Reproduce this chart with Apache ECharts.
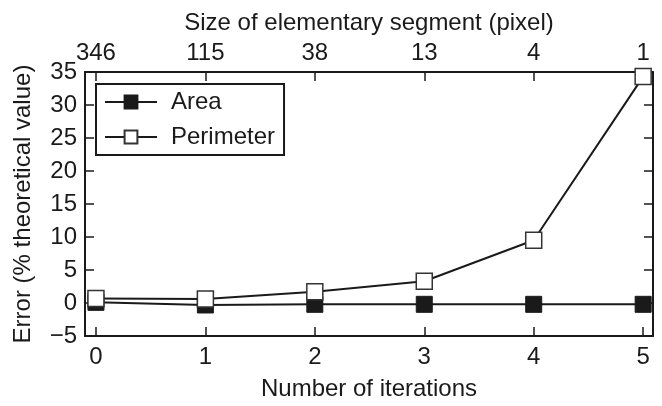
<!DOCTYPE html>
<html>
<head>
<meta charset="utf-8">
<script src="https://cdn.jsdelivr.net/npm/echarts@6/dist/echarts.min.js"></script>
<style>
  html, body { margin: 0; padding: 0; background: #fff; }
  #chart { width: 662px; height: 406px; }
</style>
</head>
<body>
<div id="chart"></div>
<script>
// Iteration steps on the bottom axis
const iterations = [0, 1, 2, 3, 4, 5];
// Matching elementary segment size, shown on the top axis
const segmentSizes = ['346', '115', '38', '13', '4', '1'];
// Error relative to the theoretical value (%)
const areaError = [0.1, -0.3, -0.2, -0.2, -0.2, -0.2];
const perimeterError = [0.7, 0.6, 1.7, 3.3, 9.5, 34.3];

const ink = '#1a1a1a';
const font = 'Liberation Sans, Arial, sans-serif';
const fs = 24;

const chart = echarts.init(document.getElementById('chart'), null, { renderer: 'canvas' });

const axisLine = { show: true, onZero: false, lineStyle: { color: ink, width: 2 } };
const innerTick = { show: true, inside: true, length: 9, lineStyle: { color: ink, width: 1.5 } };
const labelText = { fontFamily: font, fontSize: fs, color: ink };

chart.setOption({
  backgroundColor: '#fff',
  animation: false,
  textStyle: { fontFamily: font },
  grid: { left: 85, right: 9, top: 72, bottom: 64, containLabel: false },
  legend: {
    orient: 'vertical',
    left: 96,
    top: 84,
    padding: [6, 9, 6, 8],
    itemGap: 11,
    itemWidth: 52,
    itemHeight: 16,
    borderColor: ink,
    borderWidth: 2,
    borderRadius: 0,
    textStyle: Object.assign({ padding: [0, 0, 0, 9] }, labelText),
    data: ['Area', 'Perimeter']
  },
  xAxis: [
    {
      type: 'value',
      position: 'bottom',
      min: -0.1,
      max: 5.09,
      name: 'Number of iterations',
      nameLocation: 'middle',
      nameGap: 41,
      nameTextStyle: labelText,
      axisLine: axisLine,
      axisTick: Object.assign({ customValues: iterations }, innerTick),
      axisLabel: Object.assign({ customValues: iterations, margin: 9 }, labelText),
      splitLine: { show: false }
    },
    {
      type: 'value',
      position: 'top',
      min: -0.1,
      max: 5.09,
      name: 'Size of elementary segment (pixel)',
      nameLocation: 'middle',
      nameGap: 37,
      nameTextStyle: labelText,
      axisLine: axisLine,
      axisTick: Object.assign({ customValues: iterations }, innerTick),
      axisLabel: Object.assign({
        customValues: iterations,
        margin: 7,
        formatter: v => segmentSizes[Math.round(v)]
      }, labelText),
      splitLine: { show: false }
    }
  ],
  yAxis: [
    {
      type: 'value',
      position: 'left',
      min: -5,
      max: 35,
      interval: 5,
      name: 'Error (% theoretical value)',
      nameLocation: 'middle',
      nameGap: 50,
      nameTextStyle: labelText,
      axisLine: axisLine,
      axisTick: innerTick,
      axisLabel: Object.assign({
        margin: 8,
        formatter: v => String(v).replace('-', '\u2212')
      }, labelText),
      splitLine: { show: false }
    },
    {
      type: 'value',
      position: 'right',
      min: -5,
      max: 35,
      interval: 5,
      axisLine: axisLine,
      axisTick: innerTick,
      axisLabel: { show: false },
      splitLine: { show: false }
    }
  ],
  series: [
    {
      name: 'Area',
      type: 'line',
      xAxisIndex: 0,
      yAxisIndex: 0,
      data: iterations.map((x, i) => [x, areaError[i]]),
      symbol: 'rect',
      symbolSize: 16,
      showAllSymbol: true,
      clip: false,
      lineStyle: { color: ink, width: 2 },
      itemStyle: { color: ink, borderColor: ink, borderWidth: 1 }
    },
    {
      name: 'Perimeter',
      type: 'line',
      xAxisIndex: 0,
      yAxisIndex: 0,
      data: iterations.map((x, i) => [x, perimeterError[i]]),
      symbol: 'rect',
      symbolSize: 16,
      showAllSymbol: true,
      clip: false,
      lineStyle: { color: ink, width: 2 },
      itemStyle: { color: '#fff', borderColor: '#333', borderWidth: 1.5 }
    }
  ]
});
</script>
</body>
</html>
